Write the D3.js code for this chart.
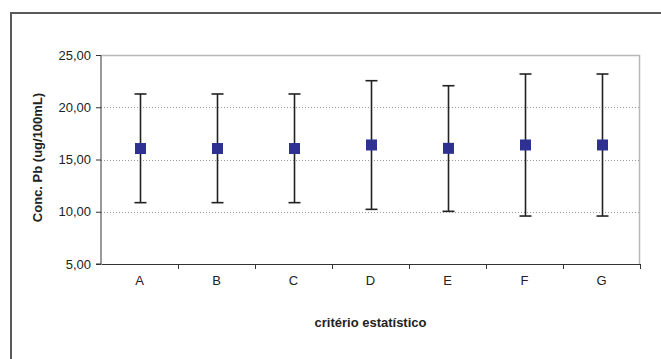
<!DOCTYPE html>
<html>
<head>
<meta charset="utf-8">
<script src="https://cdn.jsdelivr.net/npm/d3@7"></script>
<style>
  body { margin: 0; background: #fff; }
  svg text { font-family: "Liberation Sans", Arial, sans-serif; }
</style>
</head>
<body>
<svg id="chart" width="661" height="359"></svg>
<script>
// -----------------------------
// Data
// -----------------------------
const categories = ["A", "B", "C", "D", "E", "F", "G"];
const means = [16.05, 16.05, 16.05, 16.39, 16.07, 16.39, 16.39];
const upper = [21.27, 21.27, 21.27, 22.54, 22.06, 23.18, 23.18];
const lower = [10.87, 10.87, 10.87, 10.23, 10.04, 9.59, 9.59];
const yTicks = [5, 10, 15, 20, 25];
const gridValues = [10, 15, 20];

const svg = d3.select("#chart");
const width = 661;
const height = 359;

const margin = { top: 55, right: 21, bottom: 95, left: 101 };
const plotW = width - margin.left - margin.right;
const plotH = height - margin.top - margin.bottom;

// outer frame (runs off the right and bottom edges)
svg
  .append("rect")
  .attr("x", 11)
  .attr("y", 13)
  .attr("width", 700)
  .attr("height", 400)
  .attr("fill", "#fff")
  .attr("stroke", "#5a5a5a")
  .attr("stroke-width", 2);

const g = svg
  .append("g")
  .attr("transform", `translate(${margin.left},${margin.top})`);

// -----------------------------
// Scales
// -----------------------------
const x = d3.scaleBand().domain(categories).range([0, plotW]);
const y = d3.scaleLinear().domain([5, 25]).range([plotH, 0]);

const rows = categories.map((c, i) => ({
  cat: c,
  mean: means[i],
  hi: upper[i],
  lo: lower[i],
}));

// gridlines
g.append("g")
  .selectAll("line")
  .data(gridValues)
  .join("line")
  .attr("x1", 0)
  .attr("x2", plotW)
  .attr("y1", (d) => Math.round(y(d)) + 0.5)
  .attr("y2", (d) => Math.round(y(d)) + 0.5)
  .attr("stroke", "#9a9a9a")
  .attr("stroke-width", 1)
  .attr("stroke-dasharray", "1,2");

// top and right border of the plot area
g.append("path")
  .attr("d", `M0,0.5H${plotW - 0.5}V${plotH}`)
  .attr("fill", "none")
  .attr("stroke", "#b8b8b8")
  .attr("stroke-width", 1.5);

// -----------------------------
// Axes
// -----------------------------
const yAxis = d3
  .axisLeft(y)
  .tickValues(yTicks)
  .tickSize(5)
  .tickPadding(5)
  .tickFormat((d) => d3.format(".2f")(d).replace(".", ","));

g.append("g")
  .call(yAxis)
  .call((a) => a.select(".domain").attr("d", `M-5,0.5H0V${plotH}H-5`))
  .call((a) =>
    a.selectAll("text").style("font-size", "13px").attr("fill", "#222"),
  )
  .call((a) => a.selectAll("path, line").attr("stroke", "#333"));

const xAxis = d3.axisBottom(x).tickSize(0).tickPadding(12);

g.append("g")
  .attr("transform", `translate(0,${plotH})`)
  .call(xAxis)
  .call((a) => a.select(".domain").attr("stroke", "#333"))
  .call((a) =>
    a.selectAll("text").style("font-size", "13px").attr("fill", "#222"),
  );

// tick marks between categories
g.append("g")
  .selectAll("line")
  .data(categories.slice(1).concat(["end"]))
  .join("line")
  .attr("x1", (d, i) => Math.round(x.step() * (i + 1)) + 0.5)
  .attr("x2", (d, i) => Math.round(x.step() * (i + 1)) + 0.5)
  .attr("y1", plotH)
  .attr("y2", plotH + 5)
  .attr("stroke", "#333");

// -----------------------------
// Error bars and markers
// -----------------------------
const cx = (d) => Math.round(x(d.cat) + x.bandwidth() / 2) + 0.5;
const capW = 6;

const bars = g.append("g").attr("stroke", "#222").attr("stroke-width", 1.6);

bars
  .selectAll(".stem")
  .data(rows)
  .join("line")
  .attr("x1", cx)
  .attr("x2", cx)
  .attr("y1", (d) => y(d.hi))
  .attr("y2", (d) => y(d.lo));

bars
  .selectAll(".cap-hi")
  .data(rows)
  .join("line")
  .attr("class", "cap-hi")
  .attr("x1", (d) => cx(d) - capW)
  .attr("x2", (d) => cx(d) + capW)
  .attr("y1", (d) => y(d.hi))
  .attr("y2", (d) => y(d.hi));

bars
  .selectAll(".cap-lo")
  .data(rows)
  .join("line")
  .attr("class", "cap-lo")
  .attr("x1", (d) => cx(d) - capW)
  .attr("x2", (d) => cx(d) + capW)
  .attr("y1", (d) => y(d.lo))
  .attr("y2", (d) => y(d.lo));

const mSize = 11;
g.append("g")
  .selectAll("rect")
  .data(rows)
  .join("rect")
  .attr("x", (d) => cx(d) - mSize / 2)
  .attr("y", (d) => y(d.mean) - mSize / 2)
  .attr("width", mSize)
  .attr("height", mSize)
  .attr("fill", "#2e3192");

// -----------------------------
// Axis titles
// -----------------------------
svg
  .append("text")
  .attr("transform", `translate(42,${margin.top + plotH / 2 - 2}) rotate(-90)`)
  .attr("text-anchor", "middle")
  .style("font-size", "13px")
  .style("font-weight", "bold")
  .attr("fill", "#222")
  .text("Conc. Pb (ug/100mL)");

svg
  .append("text")
  .attr("x", margin.left + plotW / 2)
  .attr("y", 327)
  .attr("text-anchor", "middle")
  .style("font-size", "13px")
  .style("font-weight", "bold")
  .attr("fill", "#222")
  .text("critério estatístico");
</script>
</body>
</html>
